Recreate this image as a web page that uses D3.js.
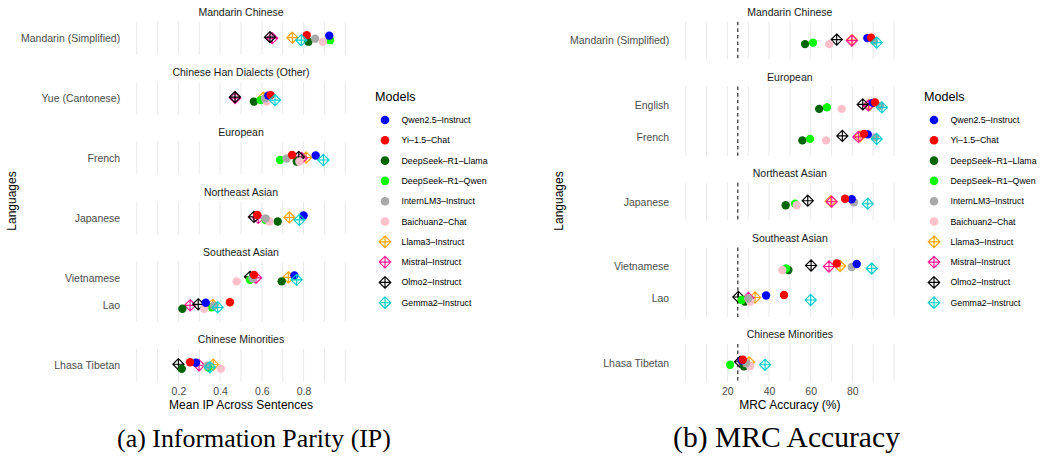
<!DOCTYPE html>
<html><head><meta charset="utf-8">
<script src="https://cdn.jsdelivr.net/npm/d3@7"></script>
<style>body{margin:0;background:#fff} svg{display:block;font-family:"Liberation Sans",Arial,sans-serif}</style>
</head><body><svg id="chart" width="1044" height="457"></svg>
<script>
// ---------------- DATA ----------------
const models = ["Qwen2.5–Instruct","Yi–1.5–Chat","DeepSeek–R1–Llama","DeepSeek–R1–Qwen","InternLM3–Instruct","Baichuan2–Chat","Llama3–Instruct","Mistral–Instruct","Olmo2–Instruct","Gemma2–Instruct"];

// (a) Information Parity
const ipGroups = ["Mandarin Chinese","Chinese Han Dialects (Other)","European","Northeast Asian","Southeast Asian","Chinese Minorities"];
const ipLanguages = [["Mandarin (Simplified)"],["Yue (Cantonese)"],["French"],["Japanese"],["Vietnamese","Lao"],["Lhasa Tibetan"]];
const ipMandarin   = [0.923,0.815,0.823,0.927,0.855,0.893,0.746,0.650,0.639,0.789];
const ipYue        = [0.631,0.642,0.562,0.594,0.615,0.623,0.607,0.472,0.471,0.663];
const ipFrench     = [0.858,0.745,0.767,0.687,0.719,0.780,0.812,0.791,0.777,0.895];
const ipJapanese   = [0.800,0.578,0.676,0.618,0.618,0.636,0.732,0.583,0.562,0.780];
const ipVietnamese = [0.756,0.562,0.695,0.543,0.555,0.479,0.727,0.572,0.543,0.767];
const ipLao        = [0.331,0.447,0.219,0.360,0.370,0.324,0.364,0.256,0.295,0.388];
const ipTibetan    = [0.284,0.256,0.216,0.343,0.339,0.403,0.367,0.299,0.200,0.351];
const ipTicks = [0.2,0.4,0.6,0.8];

// (b) MRC Accuracy
const mrcGroups = ["Mandarin Chinese","European","Northeast Asian","Southeast Asian","Chinese Minorities"];
const mrcLanguages = [["Mandarin (Simplified)"],["English","French"],["Japanese"],["Vietnamese","Lao"],["Lhasa Tibetan"]];
const mrcMandarin   = [87.2,89.0,57.3,61.1,90.3,68.9,79.8,79.8,72.5,91.7];
const mrcEnglish    = [89.8,90.9,64.1,67.8,93.3,74.9,88.3,87.7,85.0,94.2];
const mrcFrench     = [87.4,85.6,56.0,59.7,90.9,67.4,83.7,82.9,75.2,91.7];
const mrcJapanese   = [79.7,76.5,48.0,52.5,80.8,53.3,69.6,70.1,58.6,87.4];
const mrcVietnamese = [82.1,72.5,49.3,48.2,79.7,46.4,74.1,68.8,60.2,89.3];
const mrcLao        = [38.6,47.2,28.5,26.9,30.0,30.9,33.3,30.1,25.3,60.0];
const mrcTibetan    = [27.0,27.4,28.0,21.3,29.0,30.9,30.4,28.1,26.1,38.1];
const mrcTicks = [20,40,60,80];
const mrcChance = 25;

// --------------- STYLE ----------------
const modelColors = ["#0000FF","#FF0000","#006400","#00FF00","#A9A9A9","#FFC0CB","#FFA500","#FF1493","#000000","#00CDCD"];
const modelIsDiamond = [false,false,false,false,false,false,true,true,true,true];
const jitterPx = [-2.5,-3,3.5,2,0.5,3.5,-0.5,0,-1,2];
const drawOrder = [6,7,8,2,3,5,4,0,1,9];

const svg = d3.select("#chart");
const color = d3.scaleOrdinal().domain(models).range(modelColors);

function diamondPath(s){
  return `M0,${-s}L${s},0L0,${s}L${-s},0Z M0,${-s}L0,${s} M${-s},0L${s},0`;
}
function drawSymbol(g, mi, cx, cy, r, s){
  if (modelIsDiamond[mi]) {
    g.append("path").attr("d", diamondPath(s)).attr("transform",`translate(${cx},${cy})`)
      .attr("fill","none").attr("stroke",color(models[mi])).attr("stroke-width",1.15);
  } else {
    g.append("circle").attr("cx",cx).attr("cy",cy).attr("r",r).attr("fill",color(models[mi]));
  }
}

function panel(cfg){
  const top = 21.7, bottom = 381.7, gap = 27;
  const g = svg.append("g");
  const x = d3.scaleLinear().domain(cfg.domain).range([cfg.x0, cfg.x1]);
  const units = cfg.langs.map(l => l.length - 1 + 1.2);
  const u = (bottom - top - gap*(cfg.groups.length-1)) / d3.sum(units);
  let y0 = top;
  cfg.groups.forEach((grp, gi) => {
    const h = units[gi]*u;
    const ys = d3.scalePoint().domain(cfg.langs[gi]).range([y0, y0+h]).padding(0.6);
    // grid
    g.selectAll(null).data(cfg.grid).enter().append("line")
      .attr("x1", d=>x(d)).attr("x2", d=>x(d)).attr("y1", y0).attr("y2", y0+h)
      .attr("stroke","#ebebeb").attr("stroke-width",1.1);
    // strip
    g.append("text").attr("x",(cfg.x0+cfg.x1)/2).attr("y",y0-9.5).attr("dy","0.35em")
      .attr("text-anchor","middle").attr("font-size",10.5).attr("fill","#1a1a1a").text(grp);
    // y axis labels
    const ya = g.append("g").attr("transform",`translate(${cfg.x0},0)`)
      .call(d3.axisLeft(ys).tickSize(0).tickPadding(16.5));
    ya.select(".domain").remove();
    ya.selectAll("text").attr("font-size",10.5).attr("fill","#4d4d4d").attr("font-family","Liberation Sans, Arial, sans-serif");
    // chance line
    if (cfg.ref !== undefined) {
      g.append("line").attr("x1",x(cfg.ref)).attr("x2",x(cfg.ref)).attr("y1",y0).attr("y2",y0+h)
        .attr("stroke","#3a3a3a").attr("stroke-width",1.3).attr("stroke-dasharray","3.6,3");
    }
    // points
    cfg.langs[gi].forEach(lang => {
      const vals = cfg.values[lang];
      drawOrder.forEach(mi => {
        drawSymbol(g, mi, x(vals[mi]), ys(lang) + jitterPx[mi], 4.2, 5.6);
      });
    });
    y0 += h + gap;
  });
  // x axis
  const xa = g.append("g").attr("transform",`translate(0,${bottom})`)
    .call(d3.axisBottom(x).tickValues(cfg.ticks).tickSize(0).tickPadding(5.5).tickFormat(cfg.fmt));
  xa.select(".domain").remove();
  xa.selectAll("text").attr("font-size",10.5).attr("fill","#4d4d4d").attr("font-family","Liberation Sans, Arial, sans-serif");
  g.append("text").attr("x",(cfg.x0+cfg.x1)/2).attr("y",405).attr("dy","0.35em")
    .attr("text-anchor","middle").attr("font-size",12).attr("fill","#000").text(cfg.xTitle);
  g.append("text").attr("transform",`translate(${cfg.yTitleX},201) rotate(-90)`).attr("dy","0.35em")
    .attr("text-anchor","middle").attr("font-size",12).attr("fill","#000").text("Languages");
  // legend
  const lg = g.append("g");
  lg.append("text").attr("x",cfg.legX).attr("y",97).attr("dy","0.35em").attr("font-size",12.6).attr("fill","#000").text("Models");
  models.forEach((m, i) => {
    const cy = 120 + i*20.3;
    drawSymbol(lg, i, cfg.legX+10, cy, 4.3, 5.8);
    lg.append("text").attr("x",cfg.legX+26.5).attr("y",cy).attr("dy","0.35em")
      .attr("font-size",8.8).attr("fill","#000").text(m);
  });
  // caption
  const cap = g.append("text").attr("x",cfg.capX).attr("y",447).attr("text-anchor","middle")
    .attr("font-family","Liberation Serif, serif").attr("font-size",24).attr("fill","#000").text(cfg.caption);
  const w = cap.node().getComputedTextLength();
  cap.attr("font-size", 24*cfg.capW/w);
}

panel({
  x0:136.7, x1:345.3, domain:[0,1], grid:d3.range(0,11).map(i=>i/10), ticks:ipTicks, fmt:d3.format(".1f"),
  groups:ipGroups, langs:ipLanguages,
  values:{"Mandarin (Simplified)":ipMandarin,"Yue (Cantonese)":ipYue,"French":ipFrench,"Japanese":ipJapanese,"Vietnamese":ipVietnamese,"Lao":ipLao,"Lhasa Tibetan":ipTibetan},
  xTitle:"Mean IP Across Sentences", yTitleX:12, legX:375,
  caption:"(a) Information Parity (IP)", capX:254, capW:274
});
panel({
  x0:685.7, x1:894, domain:[0,100], grid:d3.range(0,11).map(i=>i*10), ticks:mrcTicks, fmt:d3.format("d"),
  groups:mrcGroups, langs:mrcLanguages, ref:mrcChance,
  values:{"Mandarin (Simplified)":mrcMandarin,"English":mrcEnglish,"French":mrcFrench,"Japanese":mrcJapanese,"Vietnamese":mrcVietnamese,"Lao":mrcLao,"Lhasa Tibetan":mrcTibetan},
  xTitle:"MRC Accuracy (%)", yTitleX:559, legX:924,
  caption:"(b) MRC Accuracy", capX:786.5, capW:227
});
</script></body></html>
